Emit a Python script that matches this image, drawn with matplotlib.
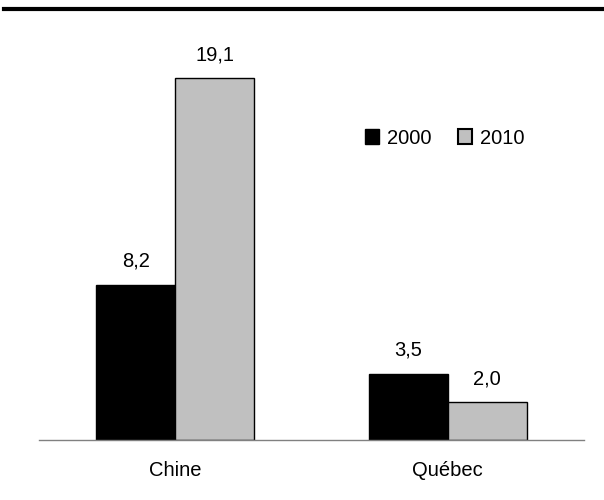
import matplotlib
matplotlib.use("Agg")
import matplotlib.pyplot as plt
from matplotlib.lines import Line2D
from matplotlib.patches import Patch

categories = ["Chine", "Québec"]
series_names = ["2000", "2010"]
values_2000 = [8.2, 3.5]
values_2010 = [19.1, 2.0]
labels_2000 = ["8,2", "3,5"]
labels_2010 = ["19,1", "2,0"]

plt.rcParams['font.family'] = ['Liberation Sans', 'DejaVu Sans']

fig = plt.figure(figsize=(6.04, 5.0), dpi=100)
W, H = 604, 500
ax = fig.add_axes([39 / W, 1 - 440 / H, (584 - 39) / W, (440 - 23) / H])

x = list(range(len(categories)))
w = 0.29
b1 = ax.bar([i - w / 2 for i in x], values_2000, width=w, color="black",
            edgecolor="black", linewidth=1, label=series_names[0])
b2 = ax.bar([i + w / 2 for i in x], values_2010, width=w, color="#C0C0C0",
            edgecolor="black", linewidth=1, label=series_names[1])

for bars, labs in ((b1, labels_2000), (b2, labels_2010)):
    for r, lab in zip(bars, labs):
        ax.annotate(lab, (r.get_x() + r.get_width() / 2, r.get_height()),
                    xytext=(0, 10), textcoords="offset points",
                    ha="center", va="bottom", fontsize=14.5)

ax.set_xlim(-0.5, 1.5)
ax.set_ylim(0, 22)
ax.set_xticks(x)
ax.set_xticklabels(categories, fontsize=14.5)
ax.tick_params(axis="x", length=0, pad=15)
ax.set_yticks([])
for s in ("top", "right", "left"):
    ax.spines[s].set_visible(False)
ax.spines["bottom"].set_color("#808080")
ax.spines["bottom"].set_linewidth(1)

handles = [Patch(facecolor="black", edgecolor="black", label=series_names[0]),
           Patch(facecolor="#C0C0C0", edgecolor="black", linewidth=1.5, label=series_names[1])]
fig.legend(handles=handles, ncol=2, frameon=False, fontsize=14.5,
           loc="center", bbox_to_anchor=(445 / W, 1 - 138 / H),
           handlelength=0.7, handleheight=0.7, handletextpad=0.4,
           columnspacing=1.3)

fig.add_artist(Line2D([4 / W, 1.0], [1 - 9 / H, 1 - 9 / H],
                      transform=fig.transFigure, color="black", linewidth=3))

fig.savefig("out.png", dpi=100)
